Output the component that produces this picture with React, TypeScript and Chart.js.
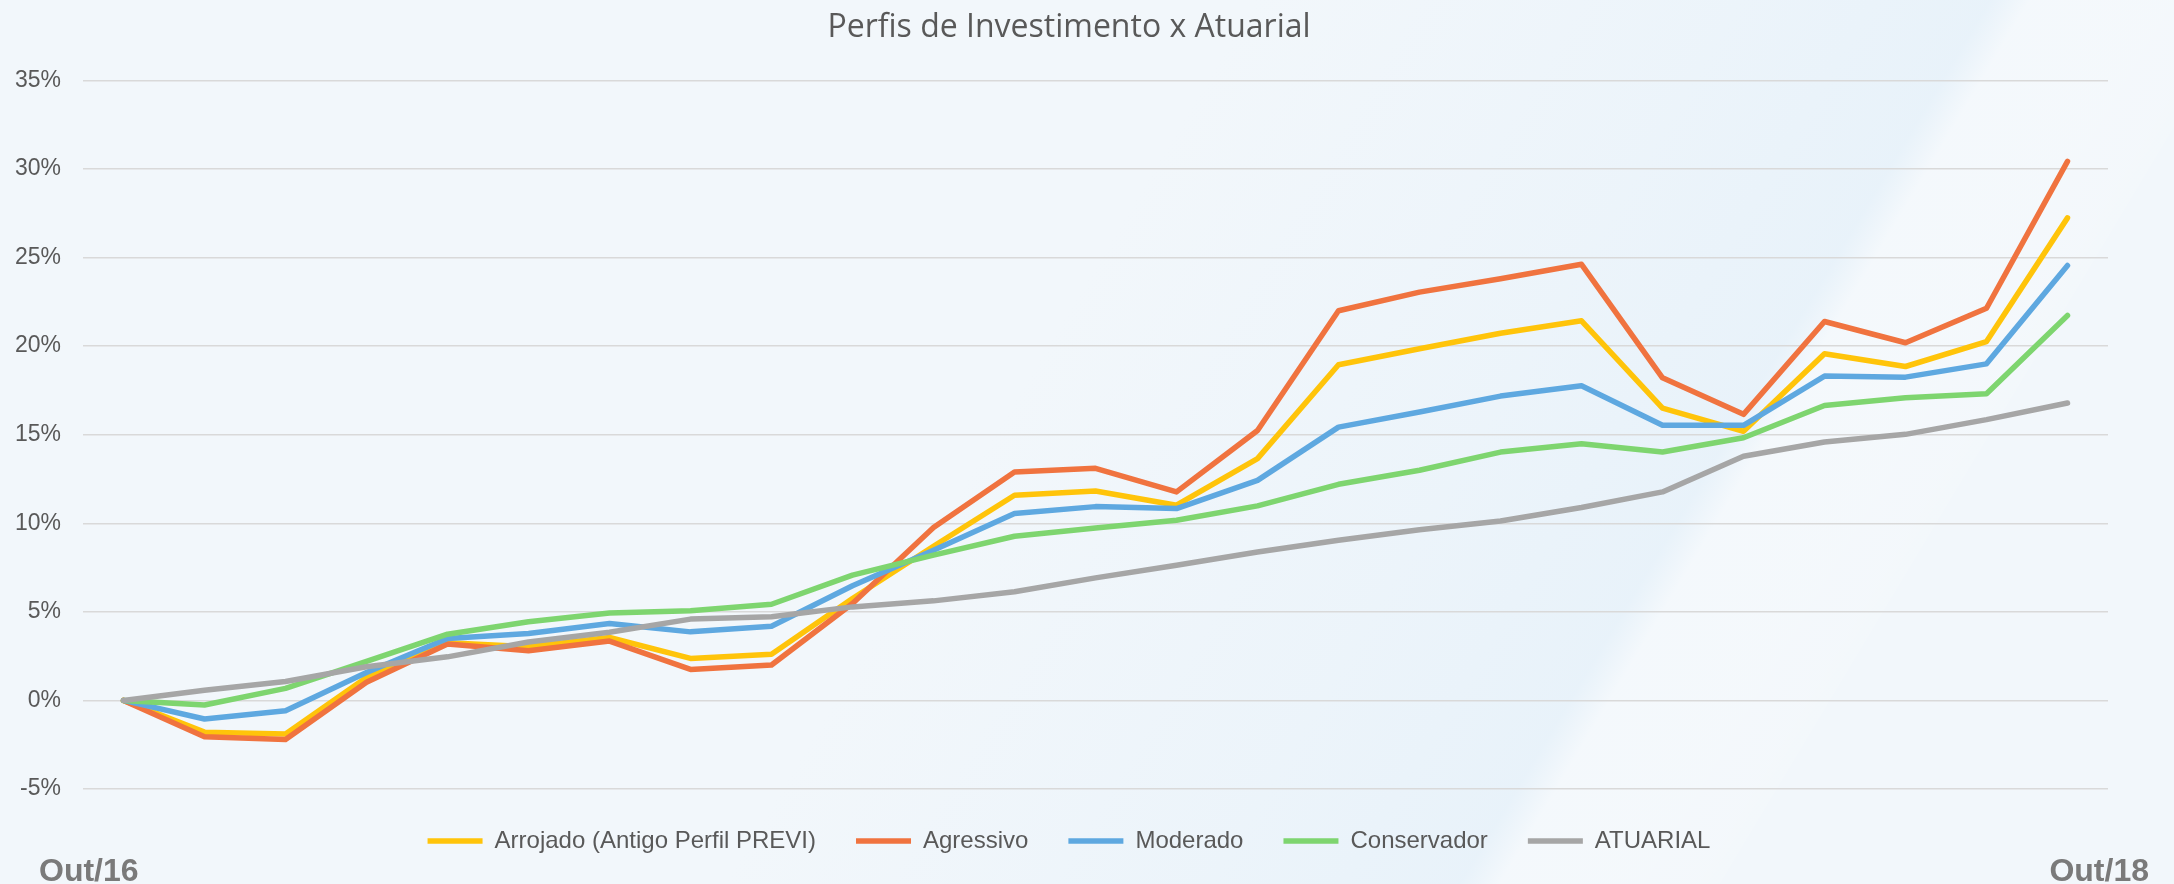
import { useEffect, useRef } from "react";
import { Chart, registerables } from "chart.js";

Chart.register(...registerables);

const titleText = "Perfis de Investimento x Atuarial";

const months = [
  "Out/16", "Nov/16", "Dez/16", "Jan/17", "Fev/17", "Mar/17", "Abr/17", "Mai/17", "Jun/17",
  "Jul/17", "Ago/17", "Set/17", "Out/17", "Nov/17", "Dez/17", "Jan/18", "Fev/18", "Mar/18",
  "Abr/18", "Mai/18", "Jun/18", "Jul/18", "Ago/18", "Set/18", "Out/18",
];

const arrojado = [0, -1.79, -1.9, 1.3, 3.25, 3.03, 3.55, 2.37, 2.61, 5.75, 8.7, 11.58, 11.82, 11.02, 13.65, 18.95, 19.85, 20.73, 21.43, 16.5, 15.19, 19.57, 18.85, 20.26, 27.24];
const agressivo = [0, -2.05, -2.2, 1.03, 3.18, 2.8, 3.35, 1.75, 2.0, 5.47, 9.76, 12.9, 13.1, 11.77, 15.24, 22.0, 23.05, 23.8, 24.62, 18.21, 16.15, 21.39, 20.19, 22.14, 30.43];
const moderado = [0, -1.05, -0.58, 1.58, 3.5, 3.78, 4.34, 3.87, 4.19, 6.47, 8.48, 10.55, 10.94, 10.83, 12.42, 15.43, 16.28, 17.18, 17.76, 15.53, 15.53, 18.31, 18.25, 19.0, 24.55];
const conservador = [0, -0.26, 0.68, 2.2, 3.74, 4.44, 4.94, 5.06, 5.43, 7.07, 8.2, 9.27, 9.73, 10.17, 10.98, 12.2, 12.99, 14.02, 14.49, 14.02, 14.83, 16.65, 17.09, 17.31, 21.73];
const atuarial = [0, 0.57, 1.07, 1.9, 2.46, 3.3, 3.85, 4.59, 4.72, 5.28, 5.62, 6.13, 6.92, 7.63, 8.38, 9.04, 9.64, 10.13, 10.89, 11.77, 13.78, 14.59, 15.02, 15.85, 16.79];

const seriesNames = ["Arrojado (Antigo Perfil PREVI)", "Agressivo", "Moderado", "Conservador", "ATUARIAL"];
const seriesValues = [arrojado, agressivo, moderado, conservador, atuarial];
const seriesColors = ["#FFC40A", "#F0733F", "#5EA8E0", "#7ED56F", "#A6A6A6"];

const yMin = -5;
const yMax = 35;
const yStep = 5;

const bgPlugin = {
  id: "bgPlugin",
  beforeDraw(chart: any) {
    const { ctx, width, height } = chart;
    ctx.save();
    ctx.fillStyle = "#f2f7fb";
    ctx.fillRect(0, 0, width, height);
    ctx.transform(1, 0, -0.6, 1, 0, 0);
    const g = ctx.createLinearGradient(1250, 0, 2250, 0);
    g.addColorStop(0, "rgba(210,230,247,0)");
    g.addColorStop(0.5, "rgba(208,230,247,0.18)");
    g.addColorStop(0.74, "rgba(210,231,247,0.3)");
    g.addColorStop(0.78, "rgba(248,251,254,0.35)");
    g.addColorStop(1, "rgba(255,255,255,0.1)");
    ctx.fillStyle = g;
    ctx.fillRect(1250, 0, 1000, height);
    ctx.restore();
  },
};

const cornerPlugin = {
  id: "cornerPlugin",
  afterDraw(chart: any) {
    const { ctx, width } = chart;
    const labels = chart.data.labels as string[];
    ctx.save();
    ctx.font = 'bold 32px "Liberation Sans", Arial, sans-serif';
    ctx.fillStyle = "#7a7a7a";
    ctx.textBaseline = "alphabetic";
    ctx.textAlign = "left";
    ctx.fillText(labels[0], 39, 881);
    ctx.textAlign = "right";
    ctx.fillText(labels[labels.length - 1], width - 25, 881);
    ctx.restore();
  },
};

export default function App() {
  const ref = useRef<HTMLCanvasElement | null>(null);

  useEffect(() => {
    if (!ref.current) return;
    const chart = new Chart(ref.current, {
      type: "line",
      data: {
        labels: months,
        datasets: seriesNames.map((name, i) => ({
          label: name,
          data: seriesValues[i],
          borderColor: seriesColors[i],
          backgroundColor: seriesColors[i],
          borderWidth: 5.5,
          borderCapStyle: "round",
          borderJoinStyle: "round",
          pointRadius: 0,
          pointHoverRadius: 0,
          tension: 0,
          fill: false,
          order: seriesNames.length - i,
        })),
      },
      options: {
        animation: false,
        responsive: false,
        devicePixelRatio: 1,
        layout: { padding: { left: 0, right: 36, top: 0, bottom: 21 } },
        plugins: {
          title: {
            display: true,
            text: titleText,
            color: "#595959",
            font: { family: "'Open Sans', Lato, sans-serif", size: 32, weight: "normal" },
            padding: { top: 9, bottom: 33 },
          },
          legend: {
            display: true,
            position: "bottom",
            labels: {
              usePointStyle: true,
              pointStyle: "line",
              pointStyleWidth: 55,
              color: "#595959",
              font: { family: "'Liberation Sans', Arial, sans-serif", size: 24 },
              padding: 40,
              sort: (a: any, b: any) => a.datasetIndex - b.datasetIndex,
            },
          },
          tooltip: { enabled: false },
        },
        scales: {
          x: {
            display: false,
            offset: true,
          },
          y: {
            min: yMin,
            max: yMax,
            ticks: {
              stepSize: yStep,
              padding: 22,
              color: "#595959",
              font: { family: "'Liberation Sans', Arial, sans-serif", size: 23 },
              callback: (v: any) => `${v}%`,
            },
            grid: { color: "#d9d9d9", lineWidth: 1.5, drawTicks: false },
            border: { display: false },
            afterFit: (s: any) => {
              s.width = 83;
            },
          },
          y2: {
            position: "right",
            display: true,
            ticks: { display: false },
            grid: { display: false, drawTicks: false },
            border: { display: false },
            afterFit: (s: any) => {
              s.width = 30;
            },
          },
        },
      },
      plugins: [bgPlugin, cornerPlugin],
    } as any);
    return () => chart.destroy();
  }, []);

  return (
    <canvas
      ref={ref}
      width={2174}
      height={884}
      style={{ position: "absolute", left: 0, top: 0, width: 2174, height: 884 }}
    />
  );
}
